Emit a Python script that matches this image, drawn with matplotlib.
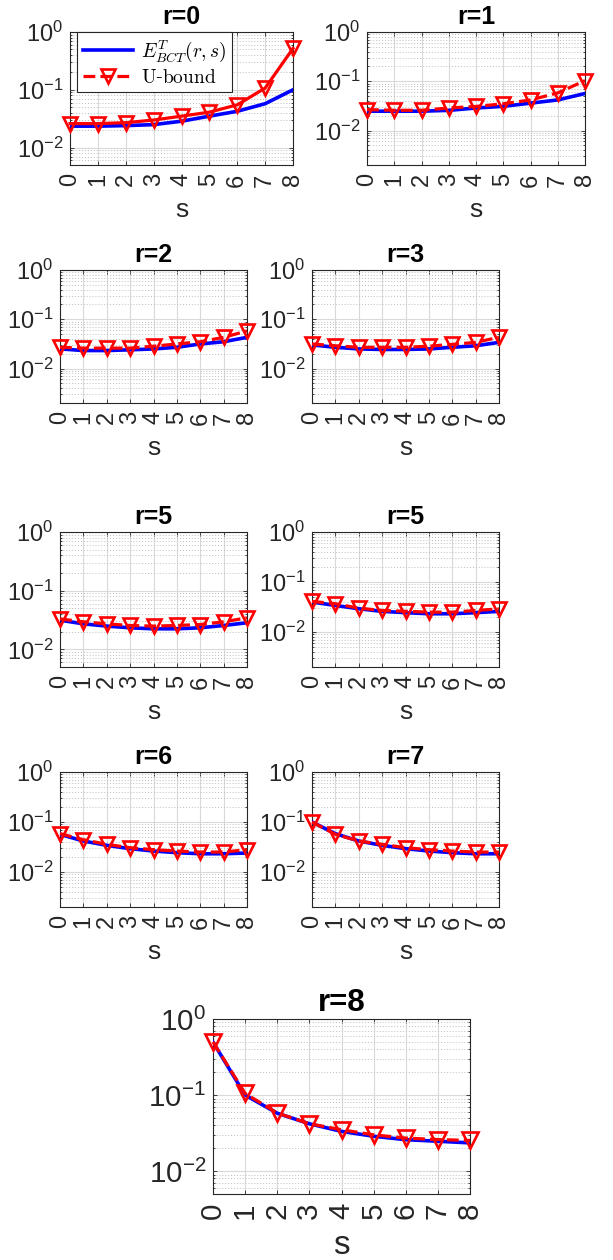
import numpy as np
import matplotlib.pyplot as plt
from matplotlib.lines import Line2D
from matplotlib.ticker import LogLocator, NullFormatter

plt.rcParams['font.family'] = ['Liberation Sans', 'DejaVu Sans']
plt.rcParams['mathtext.fontset'] = 'cm'

# datos
s = np.arange(9)
titulos = ['r=0', 'r=1', 'r=2', 'r=3', 'r=5', 'r=5', 'r=6', 'r=7', 'r=8']

e_r0 = [0.0235, 0.0235, 0.024, 0.025, 0.0286, 0.035, 0.0425, 0.0575, 0.10]
e_r1 = [0.0247, 0.0247, 0.0247, 0.0257, 0.0287, 0.031, 0.036, 0.0418, 0.0565]
e_r2 = [0.0251, 0.0232, 0.0232, 0.024, 0.025, 0.027, 0.0316, 0.035, 0.043]
e_r3 = [0.0302, 0.027, 0.025, 0.0244, 0.0244, 0.025, 0.027, 0.029, 0.034]
e_r4 = [0.0314, 0.0272, 0.0249, 0.0233, 0.0224, 0.0224, 0.0233, 0.0255, 0.0284]
e_r5 = [0.0398, 0.034, 0.0292, 0.0259, 0.0244, 0.0232, 0.0232, 0.0244, 0.0259]
e_r6 = [0.0567, 0.0417, 0.0342, 0.0293, 0.0263, 0.0244, 0.0232, 0.0232, 0.024]
e_r7 = [0.10, 0.0585, 0.0417, 0.0342, 0.0293, 0.0263, 0.0244, 0.0232, 0.0232]
e_r8 = [0.497, 0.10, 0.0577, 0.0419, 0.0333, 0.0287, 0.0259, 0.0247, 0.0235]

u_r0 = [0.026, 0.026, 0.027, 0.030, 0.035, 0.041, 0.055, 0.107, 0.52]
u_r1 = [0.0266, 0.0258, 0.0258, 0.0287, 0.0309, 0.0349, 0.0418, 0.058, 0.103]
u_r2 = [0.027, 0.026, 0.026, 0.026, 0.0284, 0.0316, 0.035, 0.043, 0.058]
u_r3 = [0.0316, 0.029, 0.027, 0.027, 0.027, 0.0284, 0.031, 0.034, 0.043]
u_r4 = [0.033, 0.0295, 0.0272, 0.0255, 0.0249, 0.0255, 0.0265, 0.0295, 0.0344]
u_r5 = [0.041, 0.0369, 0.030, 0.027, 0.026, 0.025, 0.025, 0.027, 0.029]
u_r6 = [0.0585, 0.0443, 0.0358, 0.0307, 0.028, 0.0263, 0.0251, 0.0251, 0.028]
u_r7 = [0.10, 0.0567, 0.0417, 0.0358, 0.0307, 0.028, 0.0263, 0.0251, 0.0251]
u_r8 = [0.50, 0.105, 0.058, 0.042, 0.035, 0.030, 0.0272, 0.026, 0.0253]

e_bct = [e_r0, e_r1, e_r2, e_r3, e_r4, e_r5, e_r6, e_r7, e_r8]
u_bound = [u_r0, u_r1, u_r2, u_r3, u_r4, u_r5, u_r6, u_r7, u_r8]
y_min = [0.005, 0.002, 0.002, 0.002, 0.005, 0.002, 0.002, 0.002, 0.005]

# cajas de ejes en pixeles (x0, y0, x1, y1)
W, H = 613, 1260
cajas = [(70, 32, 293, 165), (367, 32, 585, 165),
         (60, 270, 247, 403), (312, 270, 499, 403),
         (60, 532, 247, 667), (312, 532, 499, 667),
         (60, 772, 247, 907), (312, 772, 499, 907),
         (213, 1019, 470, 1194)]

gris = '#262626'
fig = plt.figure(figsize=(W / 100, H / 100), dpi=100)

for i, (x0, y0, x1, y1) in enumerate(cajas):
    ax = fig.add_axes([x0 / W, 1 - y1 / H, (x1 - x0) / W, (y1 - y0) / H])
    f = 1.25 if i == 8 else 1.0
    ax.plot(s, e_bct[i], color='blue', lw=2.6, zorder=3)
    estilo = '-' if i == 0 else '--'
    ax.plot(s, u_bound[i], color='red', ls=estilo, lw=2.3, marker='v',
            ms=9.5 * f, mfc='none', mew=1.9, clip_on=False, zorder=4)
    ax.set_yscale('log')
    ax.set_xlim(0, 8)
    ax.set_ylim(y_min[i], 1)
    ax.set_xticks(s)
    ax.set_xticklabels([str(v) for v in s], rotation=90)
    ax.yaxis.set_major_locator(LogLocator(base=10, numticks=10))
    ax.yaxis.set_minor_locator(LogLocator(base=10, subs=np.arange(2, 10), numticks=10))
    ax.yaxis.set_minor_formatter(NullFormatter())
    ax.tick_params(direction='in', which='both', colors=gris, labelsize=17 * f,
                   length=3, width=0.6, top=True, right=True)
    ax.tick_params(which='minor', length=1.5)
    ax.tick_params(axis='x', pad=6)
    ax.tick_params(axis='y', pad=5)
    ax.grid(True, which='major', color='#d9d9d9', lw=0.8, ls='-')
    ax.grid(True, which='minor', axis='y', color='#bdbdbd', lw=0.7, ls=(0, (1, 2)))
    ax.set_axisbelow(True)
    for sp in ax.spines.values():
        sp.set_color(gris)
        sp.set_linewidth(0.8)
    ax.set_xlabel('s', fontsize=19 * f, color=gris, labelpad=8)
    ax.set_title(titulos[i], fontsize=18 * f, fontweight='bold', pad=6)

    if i == 0:
        h1 = Line2D([], [], color='blue', lw=2.6)
        h2 = Line2D([], [], color='red', ls='--', lw=2.3, marker='v', ms=9.5,
                    mfc='none', mew=1.9)
        leg = ax.legend([h1, h2], [r'$E^{T}_{BCT}(r,s)$', r'$\mathrm{U}$-$\mathrm{bound}$'],
                        loc='upper left', bbox_to_anchor=(0.03, 1.0), borderaxespad=0,
                        fancybox=False, framealpha=1, edgecolor=gris,
                        handlelength=2.6, borderpad=0.3, labelspacing=0.25,
                        handletextpad=0.4, prop={'family': 'DejaVu Serif', 'size': 14})
        leg.get_frame().set_linewidth(0.8)

fig.savefig('out.png', dpi=100)
